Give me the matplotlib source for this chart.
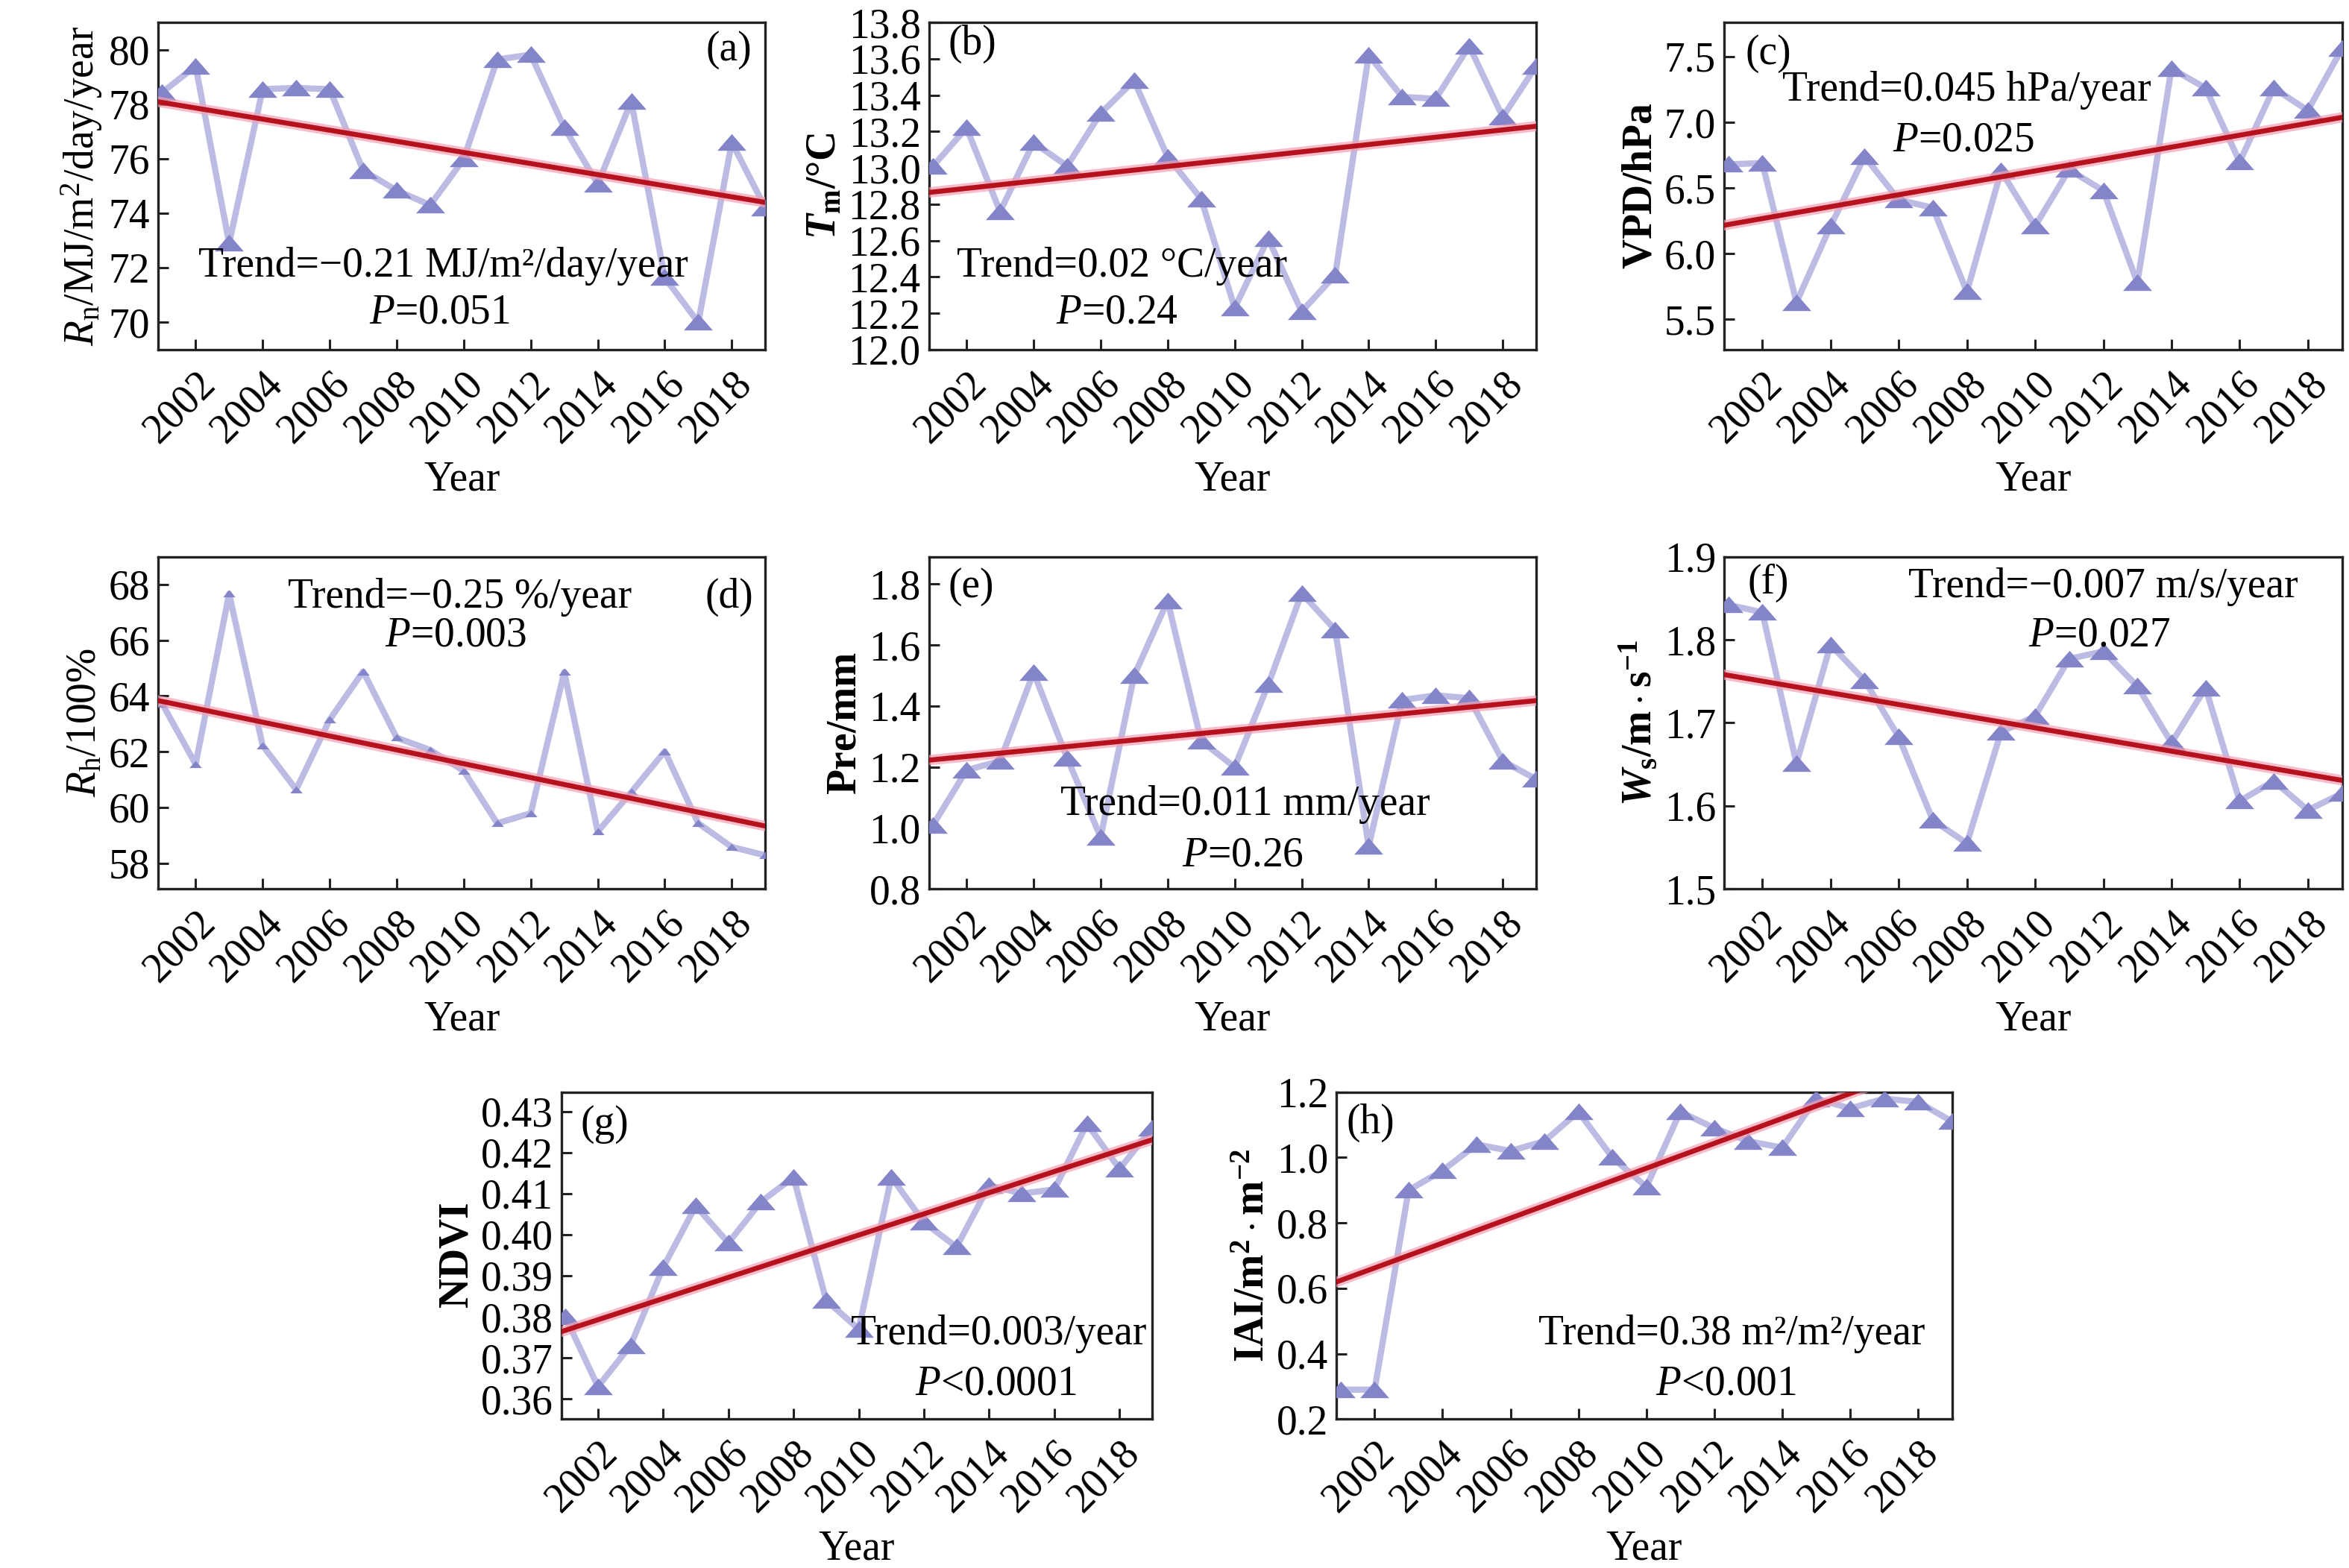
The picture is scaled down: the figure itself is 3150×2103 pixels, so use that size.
import matplotlib
matplotlib.use('Agg')
import matplotlib.pyplot as plt
from matplotlib.path import Path
import numpy as np

plt.rcParams['font.family'] = ['Liberation Serif', 'DejaVu Serif']
plt.rcParams['mathtext.fontset'] = 'custom'
plt.rcParams['mathtext.rm'] = 'Liberation Serif'
plt.rcParams['mathtext.it'] = 'Liberation Serif:italic'
plt.rcParams['mathtext.bf'] = 'Liberation Serif:bold'
plt.rcParams['mathtext.bfit'] = 'Liberation Serif:bold:italic'

years = np.arange(2001, 2020)
xticks = [2002, 2004, 2006, 2008, 2010, 2012, 2014, 2016, 2018]

rn = [78.43, 79.4, 72.9, 78.55, 78.6, 78.55, 75.57, 74.84, 74.3, 75.99,
      79.64, 79.82, 77.14, 75.08, 78.1, 71.64, 70.0, 76.6, 74.2]
tm = [13.01, 13.22, 12.76, 13.14, 13.01, 13.30, 13.48, 13.06, 12.83, 12.23,
      12.61, 12.21, 12.41, 13.62, 13.39, 13.38, 13.67, 13.28, 13.56]
vpd = [6.68, 6.69, 5.63, 6.21, 6.74, 6.41, 6.35, 5.71, 6.63, 6.21,
       6.64, 6.48, 5.78, 7.41, 7.26, 6.70, 7.26, 7.09, 7.56]
rh = [63.73, 61.55, 67.67, 62.22, 60.64, 63.15, 64.88, 62.50, 62.06, 61.31,
      59.43, 59.79, 64.86, 59.13, 60.55, 62.01, 59.43, 58.58, 58.28]
pre = [1.01, 1.19, 1.22, 1.51, 1.23, 0.97, 1.50, 1.745, 1.286, 1.20,
       1.47, 1.77, 1.65, 0.94, 1.42, 1.435, 1.426, 1.22, 1.16]
ws = [1.842, 1.833, 1.651, 1.794, 1.751, 1.683, 1.583, 1.555, 1.689, 1.708,
      1.777, 1.786, 1.744, 1.676, 1.742, 1.606, 1.630, 1.595, 1.615]
ndvi = [0.380, 0.363, 0.373, 0.392, 0.407, 0.398, 0.408, 0.414, 0.384, 0.377,
        0.414, 0.403, 0.397, 0.412, 0.410, 0.411, 0.427, 0.416, 0.426]
lai = [0.29, 0.29, 0.90, 0.96, 1.04, 1.02, 1.05, 1.14, 1.00, 0.91,
       1.14, 1.09, 1.05, 1.03, 1.18, 1.15, 1.18, 1.17, 1.11]

# fitted trend lines: value at 2010 and slope per year
trend_at_2010 = [76.233, 13.048, 6.630, 61.568, 1.321, 1.694, 0.3999, 0.967]
trend_slope = [-0.2036, 0.0201, 0.0453, -0.2486, 0.01077, -0.00702, 0.002578, 0.0381]

ylabels = [r"$R_{\rm n}$/MJ/m$^2$/day/year",
           r"$\mathbfit{T}_{\mathbf{m}}\mathbf{/°C}$",
           r"$\mathbf{VPD/hPa}$",
           r"$R_{\rm h}$/100%",
           r"$\mathbf{Pre/mm}$",
           r"$\mathbfit{W}_{\mathbf{s}}\mathbf{/m\cdot s^{-1}}$",
           r"$\mathbf{NDVI}$",
           r"$\mathbf{IAI/m^{2}\cdot m^{-2}}$"]
trend_texts = ["Trend=\u22120.21 MJ/m\u00b2/day/year",
               "Trend=0.02 \u00b0C/year",
               "Trend=0.045 hPa/year",
               "Trend=\u22120.25 %/year",
               "Trend=0.011 mm/year",
               "Trend=\u22120.007 m/s/year",
               "Trend=0.003/year",
               "Trend=0.38 m\u00b2/m\u00b2/year"]
p_texts = [r"$P$=0.051", r"$P$=0.24", r"$P$=0.025", r"$P$=0.003",
           r"$P$=0.26", r"$P$=0.027", r"$P$<0.0001", r"$P$<0.001"]
letters = ["(a)", "(b)", "(c)", "(d)", "(e)", "(f)", "(g)", "(h)"]
ylims = [(69.0, 81.0), (12.0, 13.8), (5.27, 7.76), (57.07, 69.0),
         (0.8, 1.89), (1.5, 1.9), (0.3551, 0.4347), (0.2, 1.2)]
yticks = [[70, 72, 74, 76, 78, 80],
          [12.0, 12.2, 12.4, 12.6, 12.8, 13.0, 13.2, 13.4, 13.6, 13.8],
          [5.5, 6.0, 6.5, 7.0, 7.5],
          [58, 60, 62, 64, 66, 68],
          [0.8, 1.0, 1.2, 1.4, 1.6, 1.8],
          [1.5, 1.6, 1.7, 1.8, 1.9],
          [0.36, 0.37, 0.38, 0.39, 0.40, 0.41, 0.42, 0.43],
          [0.2, 0.4, 0.6, 0.8, 1.0, 1.2]]
yfmt = ["%d", "%.1f", "%.1f", "%d", "%.1f", "%.1f", "%.2f", "%.1f"]
series = [rn, tm, vpd, rh, pre, ws, ndvi, lai]

# layout (figure fractions)
rects = [
    (0.0673, 0.777, 0.2585, 0.2087),
    (0.3955, 0.777, 0.2585, 0.2087),
    (0.734, 0.777, 0.263, 0.2087),
    (0.0673, 0.433, 0.2585, 0.212),
    (0.3955, 0.433, 0.2585, 0.212),
    (0.734, 0.433, 0.263, 0.212),
    (0.239, 0.095, 0.2515, 0.2085),
    (0.569, 0.095, 0.262, 0.2085),
]
letter_pos = [(0.94, 0.915), (0.071, 0.935), (0.071, 0.904), (0.94, 0.879),
              (0.069, 0.91), (0.071, 0.92), (0.073, 0.902), (0.055, 0.905)]
trend_pos = [(0.469, 0.254), (0.318, 0.254), (0.393, 0.793), (0.497, 0.879),
             (0.521, 0.254), (0.614, 0.91), (0.741, 0.26), (0.642, 0.26)]
p_pos = [(0.463, 0.112), (0.31, 0.112), (0.388, 0.64), (0.49, 0.762),
         (0.517, 0.10), (0.608, 0.762), (0.735, 0.107), (0.633, 0.107)]
msizes = [14, 14, 14, 6, 14, 14, 14, 14]

# flattened triangle marker like the original
tri = Path([(0, 0.6), (-1, -0.55), (1, -0.55), (0, 0.6)],
           [Path.MOVETO, Path.LINETO, Path.LINETO, Path.CLOSEPOLY])

FS = 20
line_col = '#bbbbe4'
mark_col = '#8484c8'
red = '#b5121e'
glow = '#f4a0b4'

fig = plt.figure(figsize=(15.75, 10.515), dpi=200)
for i in range(8):
    ax = fig.add_axes(rects[i])
    y = series[i]
    ax.plot(years, y, '-', color=line_col, lw=3.0, zorder=2, solid_capstyle='butt')
    ax.plot(years, y, linestyle='none', marker=tri, color=mark_col,
            ms=msizes[i], mec='none', zorder=3)
    xx = np.array([2000.5, 2019.5])
    yy = trend_at_2010[i] + trend_slope[i] * (xx - 2010)
    ax.plot(xx, yy, color=glow, lw=5.0, alpha=0.7, zorder=4)
    ax.plot(xx, yy, color=red, lw=2.4, zorder=5)
    ax.set_xlim(2000.88, 2019.0)
    ax.set_ylim(*ylims[i])
    ax.set_xticks(xticks)
    ax.set_xticklabels([str(t) for t in xticks], rotation=45, ha='right',
                       va='top', rotation_mode='anchor')
    ax.set_yticks(yticks[i])
    ax.set_yticklabels([yfmt[i] % v for v in yticks[i]])
    ax.tick_params(direction='in', length=5, width=1.1, labelsize=FS, pad=4,
                   top=False, right=False, color='#222222')
    ax.tick_params(axis='x', pad=7)
    for s in ax.spines.values():
        s.set_linewidth(1.2)
        s.set_color('#222222')
    ax.set_xlabel('Year', fontsize=FS, labelpad=5)
    ax.set_ylabel(ylabels[i], fontsize=FS, labelpad=2)
    ax.text(*letter_pos[i], letters[i], transform=ax.transAxes, fontsize=FS,
            ha='center', va='center', zorder=6)
    ax.text(*trend_pos[i], trend_texts[i], transform=ax.transAxes, fontsize=FS,
            ha='center', va='center', zorder=6)
    ax.text(*p_pos[i], p_texts[i], transform=ax.transAxes, fontsize=FS,
            ha='center', va='center', zorder=6)

fig.savefig('out.png', dpi=200, facecolor='white')
